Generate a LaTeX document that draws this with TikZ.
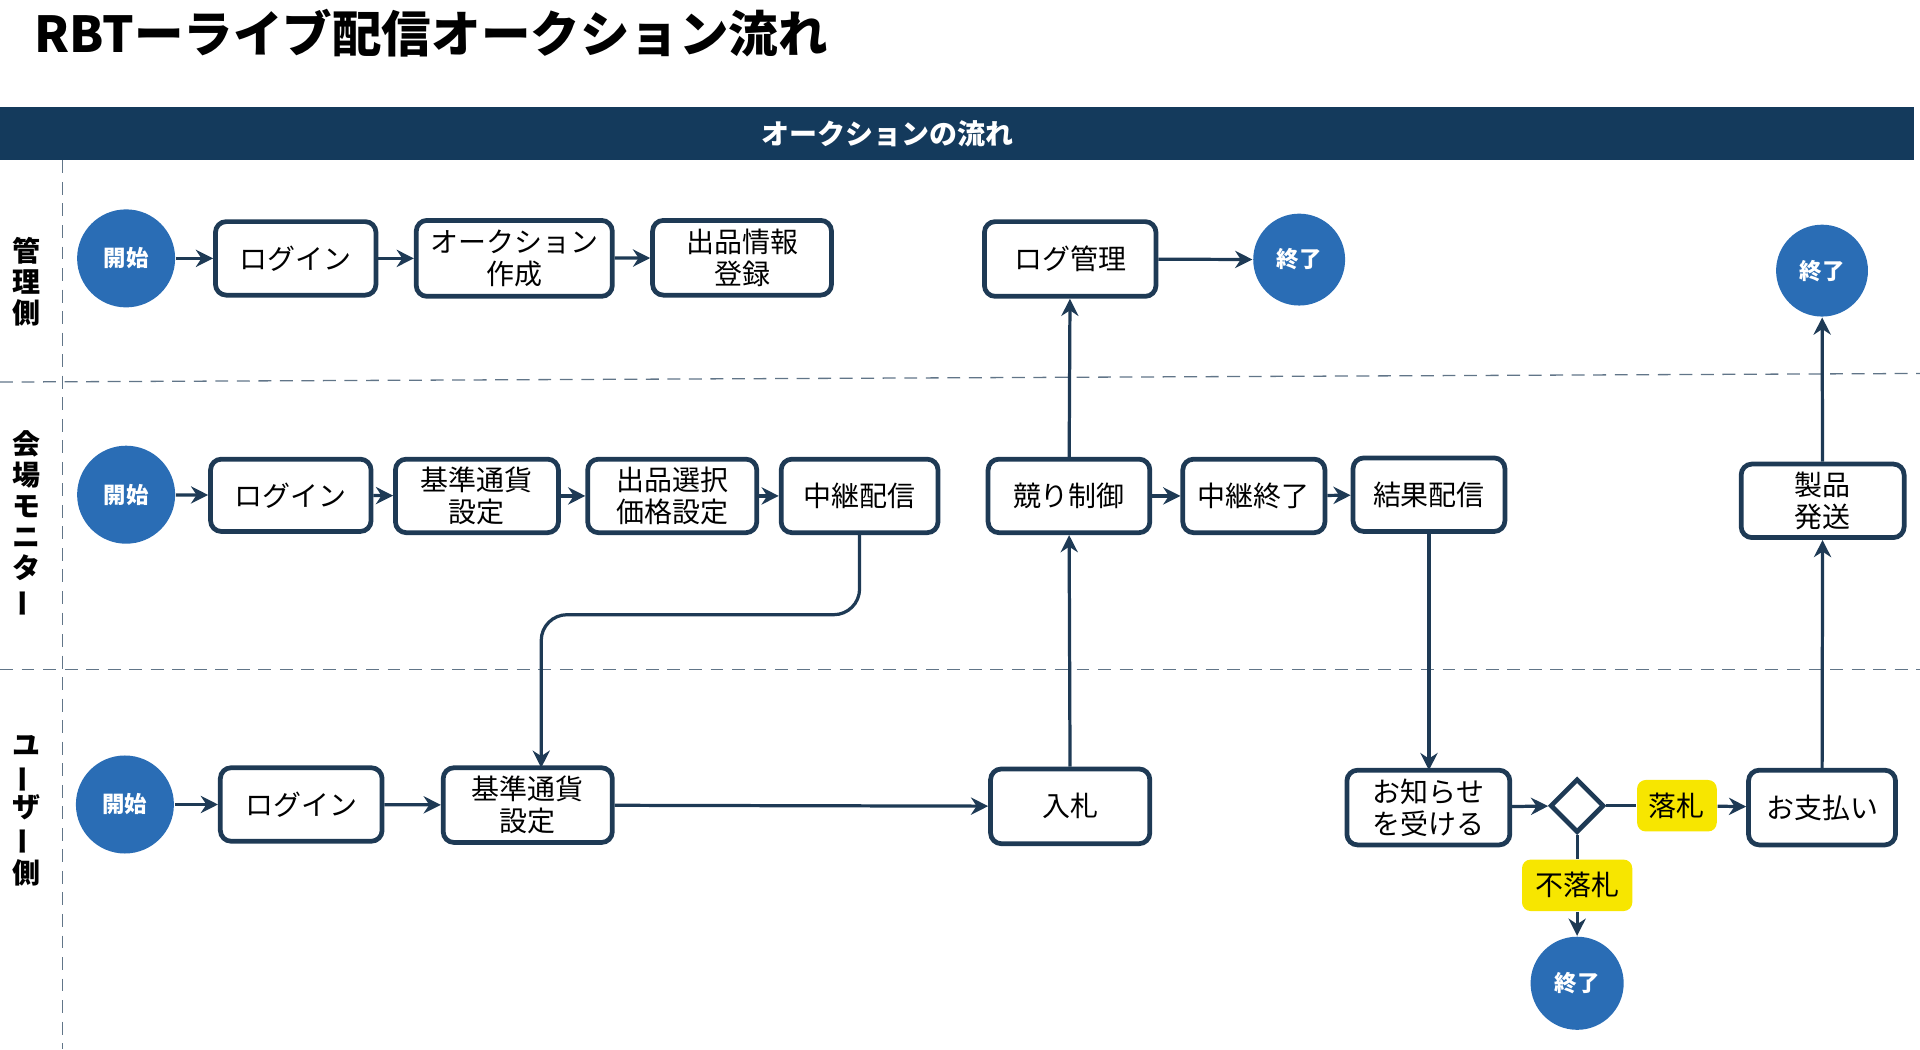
\documentclass[tikz,border=0pt]{standalone}
\usepackage{fontspec}
\setmainfont{Noto Sans CJK JP}
\usetikzlibrary{shapes.geometric,arrows.meta}
\definecolor{navy}{HTML}{143A5C}
\definecolor{bord}{HTML}{1E3A55}
\definecolor{cblue}{HTML}{2A6DB5}
\definecolor{yel}{HTML}{F7E600}
\begin{document}
\begin{tikzpicture}[x=0.01cm,y=-0.01cm,
 box/.style={draw=bord,line width=1.1pt,rounded corners=2.5pt,fill=white,align=center,font=\fontsize{6.5}{7.5}\selectfont,inner sep=1pt},
 circ/.style={circle,fill=cblue,text=white,font=\bfseries\fontsize{5.2}{6}\selectfont,inner sep=0pt},
 yl/.style={fill=yel,rounded corners=2pt,font=\fontsize{6.5}{7.5}\selectfont,inner sep=1pt},
 ar/.style={draw=bord,line width=0.75pt,-{Stealth[length=4pt,width=4pt]}},
 ln/.style={draw=bord,line width=0.75pt},
 lane/.style={font=\bfseries\fontsize{6.5}{7.2}\selectfont,align=center},
 sep/.style={draw=bord!70,densely dashed,line width=0.3pt}]
\useasboundingbox (0,0) rectangle (1568,857);
\node[anchor=west,font=\bfseries\fontsize{11.5}{13}\selectfont] (title) at (16,27) {RBTーライブ配信オークション流れ};
\fill[navy] (0,87) rectangle (1563,131);
\node[text=white,font=\bfseries\fontsize{6.5}{7.5}\selectfont] (hdr) at (725,109) {オークションの流れ};
\draw[sep] (51,131) -- (51,857);
\draw[sep] (0,312) -- (1568,305);
\draw[sep] (0,547) -- (1568,547);
\node[lane] (l1) at (22,230) {管\\理\\側};
\node[lane] (l2) at (22,428) {会\\場\\モ\\ニ\\タ\\\rotatebox[origin=c]{90}{ー}};
\node[lane] (l3) at (22,662) {ユ\\\rotatebox[origin=c]{90}{ー}\\ザ\\\rotatebox[origin=c]{90}{ー}\\側};
% row 1
\node[circ,minimum size=0.8cm] (s1) at (103,211) {開始};
\node[box,minimum width=1.31cm,minimum height=0.6cm] (a1) at (241.5,211) {ログイン};
\node[box,minimum width=1.6cm,minimum height=0.62cm] (a2) at (420,211) {オークション\\作成};
\node[box,minimum width=1.46cm,minimum height=0.61cm] (a3) at (606,210.5) {出品情報\\登録};
\node[box,minimum width=1.4cm,minimum height=0.61cm] (lg) at (874,211.5) {ログ管理};
\node[circ,minimum size=0.75cm] (e1) at (1061,212) {終了};
\node[circ,minimum size=0.75cm] (e2) at (1488,221) {終了};
% row 2
\node[circ,minimum size=0.8cm] (s2) at (103,404) {開始};
\node[box,minimum width=1.31cm,minimum height=0.59cm] (b1) at (237.5,404.5) {ログイン};
\node[box,minimum width=1.33cm,minimum height=0.6cm] (b2) at (389.5,405) {基準通貨\\設定};
\node[box,minimum width=1.38cm,minimum height=0.6cm] (b3) at (549,405) {出品選択\\価格設定};
\node[box,minimum width=1.28cm,minimum height=0.6cm] (b4) at (702,405) {中継配信};
\node[box,minimum width=1.32cm,minimum height=0.6cm] (b5) at (873,405) {競り制御};
\node[box,minimum width=1.16cm,minimum height=0.6cm] (b6) at (1024,405) {中継終了};
\node[box,minimum width=1.24cm,minimum height=0.6cm] (b7) at (1167,404) {結果配信};
\node[box,minimum width=1.33cm,minimum height=0.6cm] (b8) at (1488.5,409) {製品\\発送};
% row 3
\node[circ,minimum size=0.8cm] (s3) at (102,657) {開始};
\node[box,minimum width=1.32cm,minimum height=0.6cm] (c1) at (246,657) {ログイン};
\node[box,minimum width=1.38cm,minimum height=0.61cm] (c2) at (431,657.5) {基準通貨\\設定};
\node[box,minimum width=1.3cm,minimum height=0.61cm] (c3) at (874,658.5) {入札};
\node[box,minimum width=1.33cm,minimum height=0.61cm] (c4) at (1166.5,659.5) {お知らせ\\を受ける};
\node[draw=bord,line width=1.1pt,diamond,fill=white,minimum size=0.44cm,inner sep=0pt] (d) at (1288,658) {};
\node[yl,minimum width=0.65cm,minimum height=0.42cm] (win) at (1369.5,658) {落札};
\node[box,minimum width=1.2cm,minimum height=0.61cm] (c5) at (1488,659.5) {お支払い};
\node[yl,minimum width=0.9cm,minimum height=0.42cm] (lose) at (1288,723) {不落札};
\node[circ,minimum size=0.76cm] (e3) at (1288,803) {終了};
% arrows
\draw[ar] (s1) -- (a1); \draw[ar] (a1) -- (a2); \draw[ar] (a2) -- (a3);
\draw[ar] (lg) -- (e1);
\draw[ar] (s2) -- (b1); \draw[ar] (b1) -- (b2); \draw[ar] (b2) -- (b3); \draw[ar] (b3) -- (b4);
\draw[ar] (b5) -- (b6); \draw[ar] (b6) -- (b7);
\draw[ar] (s3) -- (c1); \draw[ar] (c1) -- (c2); \draw[ar] (c2) -- (c3);
\draw[ar,rounded corners=6pt] (b4.south) -- (702,502) -- (442,502) -- (442,627);
\draw[ar] (c3) -- (b5); \draw[ar] (b5) -- (lg);
\draw[ar] (b7.south) -- (1167,629);
\draw[ar] (c4) -- (d);
\draw[ln] (d) -- (win); \draw[ar] (win) -- (c5);
\draw[ln] (d) -- (lose); \draw[ar] (lose) -- (e3);
\draw[ar] (c5) -- (b8); \draw[ar] (b8) -- (e2);
\end{tikzpicture}
\end{document}
